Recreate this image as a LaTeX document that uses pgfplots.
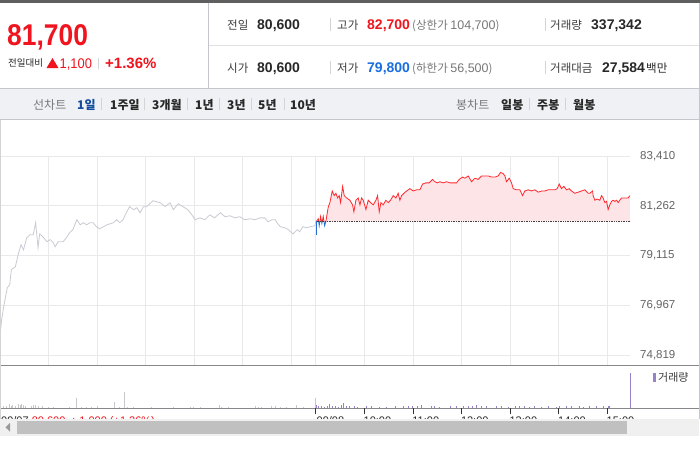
\documentclass[border=0pt]{standalone}
\usepackage{fontspec}
\usepackage{graphicx}
\usepackage{pgfplots}
\usepackage{pgfplotstable}
\pgfplotsset{compat=1.18}
\setmainfont{Noto Sans CJK KR}
\newfontfamily\ar{Liberation Sans}
\newcommand\fs[1]{\fontsize{#1}{#1}\selectfont}
\definecolor{pricered}{RGB}{240,20,30}
\definecolor{priceblue}{RGB}{25,110,225}
\definecolor{darktxt}{RGB}{40,40,40}
\definecolor{labtxt}{RGB}{60,60,60}
\definecolor{graytxt}{RGB}{120,120,120}
\definecolor{tickgray}{RGB}{100,100,100}
\definecolor{topstrip}{RGB}{95,95,95}
\definecolor{navbg}{RGB}{240,241,245}
\definecolor{navborder}{RGB}{196,198,203}
\definecolor{sepc}{RGB}{212,212,212}
\definecolor{gridc}{RGB}{233,233,233}
\definecolor{prevline}{RGB}{200,203,210}
\definecolor{redline}{RGB}{255,40,45}
\definecolor{blueline}{RGB}{40,110,215}
\definecolor{pinkfill}{RGB}{253,228,231}
\definecolor{panelsep}{RGB}{135,135,140}
\definecolor{volgray}{RGB}{200,200,204}
\definecolor{volpurple}{RGB}{150,130,200}
\definecolor{scrollbg}{RGB}{240,240,240}
\definecolor{thumb}{RGB}{192,192,192}
\newcommand\txt[4]{\node[anchor=base west,inner sep=0pt,text=#3] at (#1,-#2) {#4};}

\pgfplotstableread{
m p
0 75620
2 76340
5 76990
9 77720
12 77850
14 78500
19 78630
23 79230
26 79580
29 79360
33 79880
37 80010
41 80010
44 80530
47 79450
49 80050
53 79920
58 79710
62 79800
66 79660
68 79490
72 79710
78 79710
82 79880
86 80100
90 80230
95 80660
99 80440
103 80530
107 80440
111 80530
115 80530
119 80360
123 80270
128 80360
132 80440
140 80530
144 80660
148 80530
152 80660
156 80960
160 81220
165 81090
169 81180
173 80960
177 81220
181 81220
189 81480
198 81390
204 81230
210 81390
214 81090
220 81350
226 81220
232 81090
237 80870
241 80660
247 80740
253 80660
259 80870
265 80740
272 80960
278 80790
284 80830
290 80740
296 80790
302 80660
309 80700
315 80660
321 80740
327 80740
331 80570
336 80660
340 80660
342 80530
346 80360
352 80310
356 80230
362 80050
367 80230
370 80140
374 80360
379 80310
383 80360
389 80400
390 80600
}\prevday

\pgfplotstableread{
m p
390.8 80000
391.0 80600
393.0 80700
394.2 80400
395.9 80800
397.5 80500
399.2 80800
400.9 80400
402.5 80600
405.3 81200
407.4 81400
410.3 81900
412.7 81700
414.8 81800
416.9 81600
418.9 81700
420.6 81400
423.1 82100
425.1 81700
428.0 81600
432.1 81500
435.4 81300
437.0 81000
439.5 81500
442.3 81600
444.5 81300
446.5 81600
448.5 81500
451.9 81100
454.7 81500
457.6 81400
460.9 81300
464.2 81500
466.3 81700
468.3 81000
470.4 81400
473.2 81300
476.5 81500
479.4 81400
482.3 81500
485.6 81700
488.9 81600
491.7 81800
493.8 81500
495.9 81700
498.8 81800
502.1 81900
506.2 82000
510.3 81900
514.4 81950
518.5 81950
521.8 82200
525.9 82250
530.0 82250
534.2 82400
537.0 82300
539.9 82250
543.2 82300
547.3 82250
551.5 82300
555.6 82250
558.9 82250
563.8 82250
567.1 82400
571.2 82500
574.1 82450
578.2 82550
582.3 82300
586.4 82450
590.5 82400
594.7 82550
598.8 82550
602.9 82550
607.0 82500
611.1 82500
615.2 82550
618.1 82700
621.4 82650
623.5 82550
625.5 82300
628.8 82450
631.7 82250
633.8 82000
637.9 81950
642.0 81950
645.3 81700
648.1 81900
652.3 81950
656.4 81900
660.5 81950
664.6 81850
668.8 81900
672.8 81900
677.0 81950
681.1 81950
685.2 81950
688.1 82000
690.6 82200
693.4 82000
696.3 82100
699.6 81950
702.9 82000
705.8 81900
709.9 81800
714.0 81850
718.1 81900
722.2 81950
726.3 81800
728.4 81800
731.7 81900
732.5 81700
734.6 81500
737.4 81550
740.7 81500
742.8 81700
744.8 81600
746.9 81400
749.0 81450
751.0 81100
753.1 81300
755.2 81450
757.2 81500
759.3 81450
761.4 81500
763.4 81400
765.4 81500
767.5 81600
771.6 81600
775.7 81600
777.8 81700
}\curday

\pgfplotstableread{
m p
390.8 80600
391.0 80600
393.0 80700
394.2 80400
395.9 80800
397.5 80500
399.2 80800
400.9 80400
402.5 80600
405.3 81200
407.4 81400
410.3 81900
412.7 81700
414.8 81800
416.9 81600
418.9 81700
420.6 81400
423.1 82100
425.1 81700
428.0 81600
432.1 81500
435.4 81300
437.0 81000
439.5 81500
442.3 81600
444.5 81300
446.5 81600
448.5 81500
451.9 81100
454.7 81500
457.6 81400
460.9 81300
464.2 81500
466.3 81700
468.3 81000
470.4 81400
473.2 81300
476.5 81500
479.4 81400
482.3 81500
485.6 81700
488.9 81600
491.7 81800
493.8 81500
495.9 81700
498.8 81800
502.1 81900
506.2 82000
510.3 81900
514.4 81950
518.5 81950
521.8 82200
525.9 82250
530.0 82250
534.2 82400
537.0 82300
539.9 82250
543.2 82300
547.3 82250
551.5 82300
555.6 82250
558.9 82250
563.8 82250
567.1 82400
571.2 82500
574.1 82450
578.2 82550
582.3 82300
586.4 82450
590.5 82400
594.7 82550
598.8 82550
602.9 82550
607.0 82500
611.1 82500
615.2 82550
618.1 82700
621.4 82650
623.5 82550
625.5 82300
628.8 82450
631.7 82250
633.8 82000
637.9 81950
642.0 81950
645.3 81700
648.1 81900
652.3 81950
656.4 81900
660.5 81950
664.6 81850
668.8 81900
672.8 81900
677.0 81950
681.1 81950
685.2 81950
688.1 82000
690.6 82200
693.4 82000
696.3 82100
699.6 81950
702.9 82000
705.8 81900
709.9 81800
714.0 81850
718.1 81900
722.2 81950
726.3 81800
728.4 81800
731.7 81900
732.5 81700
734.6 81500
737.4 81550
740.7 81500
742.8 81700
744.8 81600
746.9 81400
749.0 81450
751.0 81100
753.1 81300
755.2 81450
757.2 81500
759.3 81450
761.4 81500
763.4 81400
765.4 81500
767.5 81600
771.6 81600
775.7 81600
777.8 81700
777.8 80600
}\fillday

\pgfplotstableread{
m v
0 13
1.2 8
4 5
8 5
12 9
14 5
16 8
19 5
23 9
25 7
27 9
29 8
31 5
39 5
41 8
44 6
47 5
53 4
60 2
66 2
86 2
94 23
95 12
101 2
107 2
113 2
121 5
142 14
148 2
154 37
158 2
165 2
187 2
214 2
235 2
239 2
247 2
271 8
274 2
282 2
315 5
319 2
323 2
335 4
340 5
346 2
354 2
366 8
375 2
389 23
}\volprev

\pgfplotstableread{
m v
391 8
393 4
397 4
401 2
405 4
407 10
410 4
414 4
418 2
422 8
424 13
428 4
431 5
432 2
438 4
442 2
453 5
459 4
469 2
477 2
488 4
498 4
504 4
510 5
516 4
521 8
533 4
537 5
543 2
556 4
564 4
572 4
578 5
584 4
589 8
595 4
601 4
613 4
619 4
628 2
636 4
642 4
648 4
654 2
660 4
669 2
677 4
687 2
691 4
700 4
706 4
716 4
720 2
728 4
737 4
745 4
751 5
753 4
778 84
}\volcur

\begin{document}
\begin{tikzpicture}[x=1pt,y=1pt]
\useasboundingbox (0,0) rectangle (700,-450);
\fill[white] (0,0) rectangle (700,-450);
% ---------- header ----------
\fill[topstrip] (0,0) rectangle (700,-2.5);
\node[anchor=base west,inner sep=0pt,text=pricered] at (7,-45) {\ar\bfseries\fs{30}\scalebox{0.88}[1]{81,700}};
\txt{8}{66}{darktxt}{\fs{9.5}전일대비}
\fill[pricered] (46.5,-68) -- (58.5,-68) -- (52.5,-58) -- cycle;
\node[anchor=base west,inner sep=0pt,text=pricered] at (59.5,-68) {\ar\fs{14}\scalebox{0.92}[1]{1,100}};
\draw[sepc] (98,-58) -- (98,-69);
\txt{105}{68}{pricered}{\ar\bfseries\fs{15}+1.36\%}
\draw[navborder,line width=0.8pt] (208.5,-2.5) -- (208.5,-88.5);
\draw[sepc!70,line width=0.8pt] (208.5,-45) -- (700,-45);
% row 1
\txt{227}{29}{labtxt}{\fs{11.5}전일}
\txt{257}{29.5}{darktxt}{\ar\bfseries\fs{14}80,600}
\draw[sepc] (330.5,-18) -- (330.5,-31);
\txt{337}{29}{labtxt}{\fs{11.5}고가}
\txt{367}{29.5}{pricered}{\ar\bfseries\fs{14}82,700}
\txt{412}{29}{graytxt}{\fs{11.5}(상한가 {\ar\fs{12.5}104,700})}
\draw[sepc] (545.5,-18) -- (545.5,-31);
\txt{550}{29}{labtxt}{\fs{11.5}거래량}
\txt{591}{29.5}{darktxt}{\ar\bfseries\fs{14}337,342}
% row 2
\txt{227}{72}{labtxt}{\fs{11.5}시가}
\txt{257}{72.5}{darktxt}{\ar\bfseries\fs{14}80,600}
\draw[sepc] (330.5,-61) -- (330.5,-74);
\txt{337}{72}{labtxt}{\fs{11.5}저가}
\txt{367}{72.5}{priceblue}{\ar\bfseries\fs{14}79,800}
\txt{412}{72}{graytxt}{\fs{11.5}(하한가 {\ar\fs{12.5}56,500})}
\draw[sepc] (545.5,-61) -- (545.5,-74);
\txt{550}{72}{labtxt}{\fs{11.5}거래대금}
\txt{602}{72.5}{darktxt}{\ar\bfseries\fs{14}27,584}
\txt{646}{72}{darktxt}{\fs{11.5}백만}
% ---------- nav bar ----------
\fill[navbg] (0,-88.5) rectangle (700,-119.5);
\draw[navborder,line width=0.8pt] (0,-88.5) -- (700,-88.5);
\draw[navborder,line width=0.8pt] (0,-119.5) -- (700,-119.5);
\txt{33}{109}{graytxt}{\fs{12}선차트}
\txt{77}{109}{priceblue!70!black}{\bfseries\fs{12}1일}
\txt{110}{109}{darktxt}{\bfseries\fs{12}1주일}
\txt{152}{109}{darktxt}{\bfseries\fs{12}3개월}
\txt{195}{109}{darktxt}{\bfseries\fs{12}1년}
\txt{227}{109}{darktxt}{\bfseries\fs{12}3년}
\txt{258}{109}{darktxt}{\bfseries\fs{12}5년}
\txt{290}{109}{darktxt}{\bfseries\fs{12}10년}
\foreach \sx in {101,144.5,187.5,219.5,251,284,529,565} {\draw[sepc] (\sx,-98) -- (\sx,-110);}
\txt{456}{109}{graytxt}{\fs{12}봉차트}
\txt{501}{109}{darktxt}{\bfseries\fs{12}일봉}
\txt{537}{109}{darktxt}{\bfseries\fs{12}주봉}
\txt{573}{109}{darktxt}{\bfseries\fs{12}월봉}
% ---------- price chart ----------
\begin{axis}[at={(0pt,-365pt)}, anchor=south west, scale only axis,
  width=630pt, height=209pt,
  xmin=0, xmax=778, ymin=74387, ymax=83410,
  scaled y ticks=false, scaled x ticks=false,
  axis line style={draw=none}, tick style={draw=none},
  xtick={60,120,180,240,300,360,390,450,510,570,630,690,750},
  xticklabels={},
  ytick={74819,76967,79115,81262,83410},
  yticklabels={{74,819},{76,967},{79,115},{81,262},{83,410}},
  yticklabel pos=right,
  yticklabel style={font=\ar\fs{11.5}, text=tickgray, anchor=west, inner sep=0pt, xshift=10pt},
  grid=major, major grid style={draw=gridc, line width=0.9pt}]
\addplot[prevline, line width=0.8pt] table[x=m,y=p] {\prevday};
\begin{scope}
\clip (axis cs:380,80600) rectangle (axis cs:800,84000);
\addplot[fill=pinkfill, draw=none] table[x=m,y=p] {\fillday};
\addplot[redline, line width=0.8pt] table[x=m,y=p] {\curday};
\end{scope}
\begin{scope}
\clip (axis cs:380,74000) rectangle (axis cs:800,80600);
\addplot[blueline, line width=0.8pt] table[x=m,y=p] {\curday};
\end{scope}
\addplot[black!75, densely dotted, line width=0.7pt] coordinates {(391,80600) (778,80600)};
\end{axis}
% ---------- volume ----------
\begin{axis}[at={(0pt,-408pt)}, anchor=south west, scale only axis,
  width=630pt, height=42pt,
  xmin=0, xmax=778, ymin=0, ymax=100, clip=false,
  axis line style={draw=none}, ytick=\empty, xtick=\empty]
\addplot[ycomb, volgray, line width=1pt] table[x=m,y=v] {\volprev};
\addplot[ycomb, volpurple, line width=1pt] table[x=m,y=v] {\volcur};
\end{axis}
\draw[panelsep,line width=1pt] (0,-365.5) -- (699,-365.5);
\draw[panelsep,line width=1pt] (0,-408.3) -- (699,-408.3);
\foreach \t in {0.6,315.8,364.4,413.0,461.6,510.2,558.8,607.3} {\draw[black!80,line width=0.9pt] (\t,-408.3) -- (\t,-413.5);}
\txt{1}{424}{darktxt}{\ar\fs{11}09/07 \textcolor{pricered}{80,600 ▲1,000 (+1.26\%)}}
\txt{316.5}{424}{darktxt}{\ar\fs{11}09/08}
\txt{363.5}{424}{darktxt}{\ar\fs{11}10:00}
\txt{412.2}{424}{darktxt}{\ar\fs{11}11:00}
\txt{460.8}{424}{darktxt}{\ar\fs{11}12:00}
\txt{509.4}{424}{darktxt}{\ar\fs{11}13:00}
\txt{558}{424}{darktxt}{\ar\fs{11}14:00}
\txt{606.5}{424}{darktxt}{\ar\fs{11}15:00}
\draw[sepc,line width=0.8pt] (0.4,-120) -- (0.4,-419);
\draw[navborder,line width=0.8pt] (699.2,-2.5) -- (699.2,-419);
\fill[volpurple] (653,-372.5) rectangle (656,-381.5);
\txt{658}{381}{labtxt}{\fs{11}거래량}
% ---------- scrollbar ----------
\fill[scrollbg] (0,-419) rectangle (699,-436);
\fill[thumb] (17,-420.5) rectangle (627,-434);
\fill[black!40] (5.5,-427.3) -- (10,-423) -- (10,-431.6) -- cycle;
\end{tikzpicture}
\end{document}
